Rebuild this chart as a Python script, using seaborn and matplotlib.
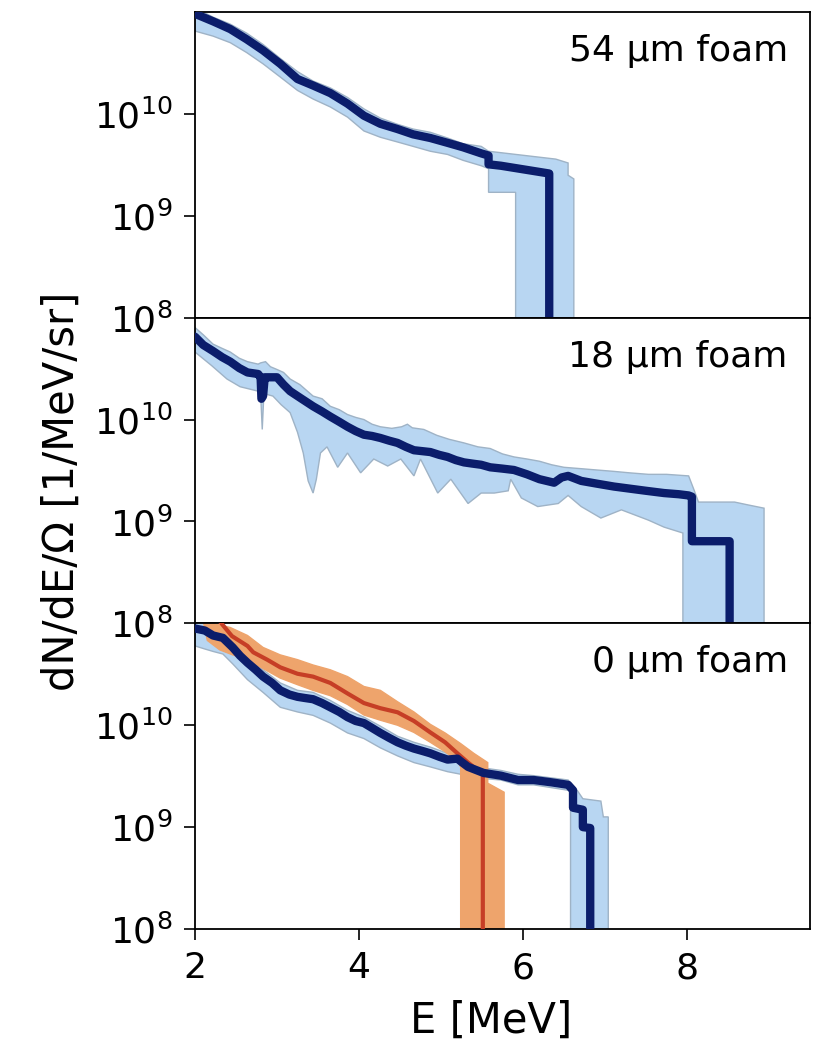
# IMPORT LIBRARIES
import matplotlib
matplotlib.use("Agg")
import matplotlib.pyplot as plt
from matplotlib.ticker import NullLocator
import seaborn as sns

# =====================================================
# DATA (E in MeV, dN/dE/Omega in 1/MeV/sr)
# =====================================================

# 54 um foam
E_54 = [2.00, 2.22, 2.43, 2.63, 2.83, 3.04, 3.25, 3.44, 3.65, 3.86,
        4.06, 4.26, 4.47, 4.66, 4.87, 5.08, 5.27, 5.49, 5.58, 5.58,
        5.73, 6.32, 6.32]
N_54 = [9.6e10, 8.1e10, 6.8e10, 5.4e10, 4.2e10, 3.1e10, 2.2e10, 1.9e10, 1.6e10, 1.26e10,
        9.6e9, 8.0e9, 7.1e9, 6.3e9, 5.8e9, 5.2e9, 4.7e9, 4.1e9, 3.9e9, 3.2e9,
        3.1e9, 2.6e9, 1e7]
E_54_hi = [2.00, 2.22, 2.43, 2.63, 2.83, 3.04, 3.25, 3.44, 3.65, 3.86,
           4.06, 4.26, 4.47, 4.66, 4.87, 5.08, 5.27, 5.49, 5.58, 6.40,
           6.55, 6.55, 6.62, 6.62]
N_54_hi = [1.1e11, 8.9e10, 7.6e10, 6.2e10, 4.8e10, 3.5e10, 2.6e10, 2.1e10, 1.8e10, 1.45e10,
           1.12e10, 9.1e9, 7.9e9, 7.1e9, 6.6e9, 5.8e9, 5.1e9, 4.8e9, 4.3e9, 3.6e9,
           3.3e9, 2.5e9, 2.3e9, 1e7]
E_54_lo = [2.00, 2.22, 2.43, 2.63, 2.83, 3.04, 3.25, 3.44, 3.65, 3.86,
           4.06, 4.26, 4.47, 4.66, 4.87, 5.08, 5.27, 5.49, 5.58, 5.58,
           5.91, 5.91]
N_54_lo = [6.5e10, 5.8e10, 5.0e10, 4.0e10, 3.1e10, 2.3e10, 1.7e10, 1.4e10, 1.17e10, 9.3e9,
           6.8e9, 5.9e9, 5.3e9, 4.8e9, 4.3e9, 4.0e9, 3.5e9, 3.1e9, 2.9e9, 1.7e9,
           1.7e9, 1e7]

# 18 um foam
E_18 = [2.00, 2.10, 2.22, 2.33, 2.43, 2.54, 2.64, 2.77, 2.80, 2.81,
        2.83, 2.85, 2.88, 3.00, 3.08, 3.16, 3.30, 3.44, 3.55, 3.65,
        3.76, 3.86, 3.96, 4.06, 4.16, 4.26, 4.37, 4.47, 4.57, 4.67,
        4.77, 4.87, 4.98, 5.08, 5.18, 5.28, 5.38, 5.49, 5.60, 5.75,
        5.89, 6.05, 6.20, 6.38, 6.47, 6.55, 6.71, 6.90, 7.11, 7.30,
        7.50, 7.72, 7.90, 8.02, 8.06, 8.06, 8.52, 8.52]
N_18 = [6.5e10, 5.4e10, 4.7e10, 4.1e10, 3.7e10, 3.2e10, 2.9e10, 2.8e10, 2.6e10, 1.6e10,
        1.7e10, 2.6e10, 2.6e10, 2.6e10, 2.2e10, 1.9e10, 1.6e10, 1.35e10, 1.2e10, 1.07e10,
        9.5e9, 8.5e9, 7.7e9, 7.1e9, 6.9e9, 6.6e9, 6.2e9, 5.9e9, 5.4e9, 5.0e9,
        4.9e9, 4.8e9, 4.5e9, 4.3e9, 4.0e9, 3.8e9, 3.7e9, 3.6e9, 3.4e9, 3.3e9,
        3.2e9, 2.9e9, 2.6e9, 2.4e9, 2.7e9, 2.8e9, 2.5e9, 2.35e9, 2.2e9, 2.1e9,
        2.0e9, 1.9e9, 1.85e9, 1.8e9, 1.75e9, 6.4e8, 6.4e8, 1e7]
E_18_hi = [2.00, 2.10, 2.22, 2.33, 2.43, 2.54, 2.64, 2.77, 2.80, 2.86,
           2.92, 3.00, 3.08, 3.16, 3.28, 3.44, 3.55, 3.65, 3.76, 3.86,
           3.96, 4.06, 4.16, 4.26, 4.40, 4.52, 4.59, 4.65, 4.79, 4.95,
           5.10, 5.28, 5.45, 5.60, 5.75, 5.89, 6.05, 6.20, 6.35, 6.50,
           6.70, 6.90, 7.11, 7.30, 7.53, 7.75, 8.02, 8.09, 8.14, 8.58,
           8.75, 8.94, 8.94]
N_18_hi = [8.0e10, 6.8e10, 5.5e10, 5.0e10, 4.6e10, 4.0e10, 3.7e10, 3.5e10, 3.6e10, 3.7e10,
           3.3e10, 3.1e10, 2.9e10, 2.5e10, 2.2e10, 1.7e10, 1.6e10, 1.35e10, 1.25e10, 1.12e10,
           1.05e10, 1.0e10, 9.0e9, 8.5e9, 8.2e9, 8.5e9, 9.0e9, 8.3e9, 8.0e9, 7.0e9,
           6.4e9, 5.9e9, 5.4e9, 5.2e9, 4.6e9, 4.3e9, 4.1e9, 3.9e9, 3.6e9, 3.4e9,
           3.3e9, 3.2e9, 3.1e9, 3.0e9, 2.9e9, 2.9e9, 2.8e9, 2.0e9, 1.55e9, 1.55e9,
           1.45e9, 1.35e9, 1e7]
E_18_lo = [2.00, 2.06, 2.20, 2.39, 2.55, 2.77, 2.80, 2.82, 2.84, 2.95,
           3.05, 3.16, 3.25, 3.32, 3.38, 3.44, 3.48, 3.53, 3.61, 3.74,
           3.86, 4.02, 4.18, 4.35, 4.51, 4.67, 4.75, 4.96, 5.12, 5.33,
           5.49, 5.65, 5.82, 5.85, 5.98, 6.18, 6.43, 6.55, 6.71, 6.95,
           7.20, 7.53, 7.72, 7.95, 7.95]
N_18_lo = [4.6e10, 4.2e10, 3.4e10, 2.5e10, 2.1e10, 1.9e10, 1.8e10, 8.0e9, 1.8e10, 1.7e10,
           1.4e10, 1.17e10, 7.5e9, 4.7e9, 2.5e9, 1.9e9, 2.6e9, 4.7e9, 5.4e9, 3.4e9,
           4.7e9, 3.0e9, 4.1e9, 3.5e9, 4.1e9, 2.8e9, 4.1e9, 1.9e9, 2.6e9, 1.5e9,
           1.9e9, 1.9e9, 2.0e9, 2.6e9, 1.7e9, 1.4e9, 1.5e9, 1.8e9, 1.4e9, 1.08e9,
           1.3e9, 1.03e9, 8.8e8, 7.7e8, 1e7]

# 0 um foam (blue)
E_0 = [2.00, 2.12, 2.22, 2.34, 2.46, 2.55, 2.64, 2.74, 2.83, 2.94,
       3.04, 3.15, 3.25, 3.34, 3.44, 3.55, 3.65, 3.76, 3.86, 3.96,
       4.06, 4.16, 4.26, 4.37, 4.47, 4.57, 4.67, 4.77, 4.87, 4.98,
       5.08, 5.20, 5.26, 5.33, 5.52, 5.73, 5.94, 6.13, 6.35, 6.55,
       6.61, 6.61, 6.73, 6.73, 6.82, 6.82]
N_0 = [8.9e10, 8.5e10, 7.6e10, 7.2e10, 5.8e10, 4.8e10, 4.1e10, 3.5e10, 3.0e10, 2.6e10,
       2.2e10, 2.0e10, 1.9e10, 1.85e10, 1.8e10, 1.65e10, 1.5e10, 1.35e10, 1.2e10, 1.1e10,
       1.05e10, 9.4e9, 8.4e9, 7.5e9, 6.8e9, 6.3e9, 5.9e9, 5.6e9, 5.3e9, 4.9e9,
       4.6e9, 4.7e9, 4.3e9, 3.9e9, 3.4e9, 3.2e9, 2.9e9, 2.9e9, 2.75e9, 2.6e9,
       2.3e9, 1.55e9, 1.48e9, 1.0e9, 9.8e8, 1e7]
E_0_hi = [2.00, 2.22, 2.46, 2.64, 2.83, 3.04, 3.25, 3.44, 3.65, 3.86,
          4.06, 4.26, 4.47, 4.67, 4.87, 5.08, 5.20, 5.33, 5.52, 5.73,
          5.94, 6.13, 6.55, 6.66, 6.73, 6.95, 6.98, 7.04, 7.04]
N_0_hi = [1.05e11, 9.5e10, 7.0e10, 4.8e10, 3.5e10, 2.6e10, 2.2e10, 2.1e10, 1.75e10, 1.4e10,
          1.2e10, 9.8e9, 7.8e9, 6.8e9, 6.1e9, 5.3e9, 5.3e9, 4.5e9, 3.8e9, 3.6e9,
          3.3e9, 3.2e9, 2.9e9, 2.3e9, 1.9e9, 1.8e9, 1.26e9, 1.26e9, 1e7]
E_0_lo = [2.00, 2.12, 2.22, 2.34, 2.46, 2.64, 2.83, 3.04, 3.25, 3.44,
          3.65, 3.86, 4.06, 4.26, 4.47, 4.67, 4.87, 5.08, 5.33, 5.52,
          5.73, 5.94, 6.13, 6.55, 6.58, 6.58]
N_0_lo = [6.0e10, 5.6e10, 5.3e10, 5.0e10, 4.0e10, 2.8e10, 2.1e10, 1.5e10, 1.35e10, 1.25e10,
          1.05e10, 8.4e9, 7.4e9, 6.0e9, 5.0e9, 4.3e9, 3.9e9, 3.5e9, 3.2e9, 3.0e9,
          2.9e9, 2.6e9, 2.6e9, 2.3e9, 2.2e9, 1e7]

# 0 um foam (red / orange)
E_ref = [2.30, 2.45, 2.64, 2.71, 2.88, 3.04, 3.25, 3.44, 3.65, 3.86,
         4.06, 4.26, 4.47, 4.67, 4.87, 5.05, 5.20, 5.33, 5.45, 5.51,
         5.51]
N_ref = [1.05e11, 7.5e10, 6.0e10, 5.2e10, 4.4e10, 3.7e10, 3.2e10, 3.0e10, 2.6e10, 2.05e10,
         1.65e10, 1.47e10, 1.34e10, 1.1e10, 8.5e9, 6.8e9, 5.3e9, 4.3e9, 3.6e9, 3.4e9,
         1e7]
E_ref_hi = [2.10, 2.43, 2.64, 2.83, 3.04, 3.25, 3.44, 3.65, 3.86, 4.06,
            4.26, 4.47, 4.67, 4.87, 5.05, 5.24, 5.40, 5.57, 5.57, 5.77,
            5.77]
N_ref_hi = [1.05e11, 9.1e10, 7.6e10, 5.8e10, 4.9e10, 4.4e10, 3.9e10, 3.5e10, 3.0e10, 2.4e10,
            2.2e10, 1.7e10, 1.35e10, 1.02e10, 8.4e9, 6.6e9, 5.3e9, 4.3e9, 2.7e9, 2.2e9,
            1e7]
E_ref_lo = [2.10, 2.15, 2.30, 2.46, 2.64, 2.83, 3.04, 3.25, 3.44, 3.65,
            3.86, 4.06, 4.26, 4.47, 4.67, 4.87, 5.05, 5.20, 5.24, 5.24]
N_ref_lo = [1.05e11, 6.8e10, 5.5e10, 4.9e10, 4.4e10, 3.6e10, 2.9e10, 2.5e10, 2.2e10, 1.95e10,
            1.6e10, 1.26e10, 1.12e10, 1.0e10, 8.5e9, 6.8e9, 5.5e9, 4.4e9, 3.9e9, 1e7]

panel_labels = ["54 µm foam", "18 µm foam", "0 µm foam"]

# colours
NAVY = "#0b1d6b"
LIGHT_BLUE = "#b8d6f2"
BLUE_EDGE = "#9fb3c6"
ORANGE = "#eea46c"
RED = "#c63e26"

# =====================================================
# FIGURE
# =====================================================

sns.set_style("ticks")
plt.rcParams["font.family"] = ["DejaVu Sans"]
plt.rcParams["text.color"] = "black"
plt.rcParams["axes.labelcolor"] = "black"
plt.rcParams["xtick.color"] = "black"
plt.rcParams["ytick.color"] = "black"

fig, axes = plt.subplots(3, 1, figsize=(8.17, 10.45), dpi=100, sharex=True)
fig.subplots_adjust(left=0.2387, right=0.9914, top=0.9885, bottom=0.111, hspace=0)


def draw_band(ax, e_hi, n_hi, e_lo, n_lo, face, edge):
    # band = upper edge then lower edge walked backwards
    ax.fill(list(e_hi) + list(e_lo[::-1]),
            list(n_hi) + list(n_lo[::-1]),
            facecolor=face, edgecolor=edge, linewidth=1.0, zorder=1)


def draw_line(ax, e, n, color, lw):
    sns.lineplot(x=e, y=n, sort=False, estimator=None,
                 color=color, linewidth=lw, ax=ax, zorder=3)


for ax in axes:
    ax.set_yscale("log")

# 54 um
draw_band(axes[0], E_54_hi, N_54_hi, E_54_lo, N_54_lo, LIGHT_BLUE, BLUE_EDGE)
draw_line(axes[0], E_54, N_54, NAVY, 6)

# 18 um
draw_band(axes[1], E_18_hi, N_18_hi, E_18_lo, N_18_lo, LIGHT_BLUE, BLUE_EDGE)
draw_line(axes[1], E_18, N_18, NAVY, 6)

# 0 um
draw_band(axes[2], E_0_hi, N_0_hi, E_0_lo, N_0_lo, LIGHT_BLUE, BLUE_EDGE)
draw_band(axes[2], E_ref_hi, N_ref_hi, E_ref_lo, N_ref_lo, ORANGE, ORANGE)
draw_line(axes[2], E_ref, N_ref, RED, 3)
draw_line(axes[2], E_0, N_0, NAVY, 6)

for ax, label in zip(axes, panel_labels):
    ax.set_xlim(2, 9.5)
    ax.set_ylim(1e8, 1e11)
    ax.set_yticks([1e8, 1e9, 1e10])
    ax.yaxis.set_minor_locator(NullLocator())
    ax.tick_params(axis="y", labelsize=26, length=8, width=1.2, pad=8)
    ax.tick_params(axis="x", labelsize=26, length=8, width=1.2, pad=8)
    for spine in ax.spines.values():
        spine.set_linewidth(1.3)
        spine.set_color("black")
    ax.set_ylabel("")
    ax.text(0.964, 0.928, label, transform=ax.transAxes,
            ha="right", va="top", fontsize=26, color="black")

for ax in axes[:2]:
    ax.tick_params(axis="x", bottom=False, labelbottom=False)

axes[2].set_xticks([2, 4, 6, 8])
axes[2].set_xlabel("E [MeV]", fontsize=30)
axes[2].xaxis.set_label_coords(0.481, -0.232)

axes[1].set_ylabel("dN/dE/Ω [1/MeV/sr]", fontsize=30)
axes[1].yaxis.set_label_coords(-0.182, 0.431)

plt.savefig("out.png", dpi=100)
plt.close()
print("Figure saved successfully!")
